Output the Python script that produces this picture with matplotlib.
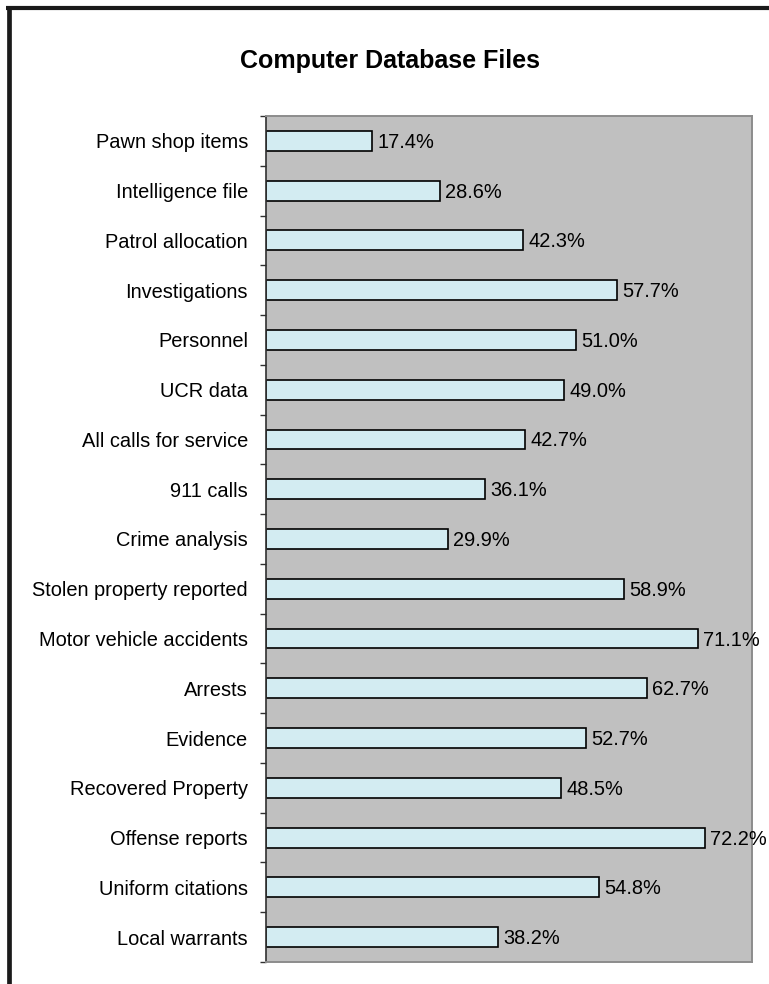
import matplotlib
matplotlib.use("Agg")
import matplotlib.pyplot as plt
from matplotlib.lines import Line2D

categories = [
    "Pawn shop items", "Intelligence file", "Patrol allocation", "Investigations",
    "Personnel", "UCR data", "All calls for service", "911 calls", "Crime analysis",
    "Stolen property reported", "Motor vehicle accidents", "Arrests", "Evidence",
    "Recovered Property", "Offense reports", "Uniform citations", "Local warrants",
]
values = [17.4, 28.6, 42.3, 57.7, 51.0, 49.0, 42.7, 36.1, 29.9,
          58.9, 71.1, 62.7, 52.7, 48.5, 72.2, 54.8, 38.2]
title = "Computer Database Files"

plt.rcParams["font.family"] = ["Liberation Sans", "DejaVu Sans"]

W, H = 769, 984
fig = plt.figure(figsize=(W / 100, H / 100), dpi=100)
fig.patch.set_facecolor("white")

ax = fig.add_axes([266 / W, 1 - 962 / H, (752 - 266) / W, (962 - 116) / H])
ax.set_facecolor("#C0C0C0")

ypos = list(range(len(categories)))
ax.barh(ypos, values, height=0.4, color="#D3ECF2", edgecolor="black", linewidth=1.2)

for y, v in zip(ypos, values):
    ax.text(v + 0.9, y + 0.03, f"{v:.1f}%", va="center", ha="left", fontsize=14.4,
            color="black", clip_on=False)

ax.set_xlim(0, 80)
ax.set_ylim(len(categories) - 0.5, -0.5)
ax.set_xticks([])
ax.set_yticks(ypos)
ax.set_yticklabels(categories, fontsize=14.4)
for lbl in ax.get_yticklabels():
    lbl.set_y(0)
ax.tick_params(axis="y", which="major", length=0, pad=13)
ax.set_yticks([i - 0.5 for i in range(len(categories) + 1)], minor=True)
ax.tick_params(axis="y", which="minor", length=4.5, width=1.0, color="#303030")

ax.spines["left"].set_color("#303030")
ax.spines["left"].set_linewidth(1.2)
for s in ["top", "right", "bottom"]:
    ax.spines[s].set_color("#8C8C8C")
    ax.spines[s].set_linewidth(1.4)

fig.text(389.5 / W, 1 - 68 / H, title, ha="center", va="baseline",
         fontsize=18, fontweight="bold")

# outer frame (left and top)
fig.add_artist(Line2D([8.5 / W, 8.5 / W], [0, 1 - 6 / H], transform=fig.transFigure,
                      color="#1A1A1A", linewidth=3.4, solid_capstyle="butt"))
fig.add_artist(Line2D([6 / W, 1], [1 - 8 / H, 1 - 8 / H], transform=fig.transFigure,
                      color="#1A1A1A", linewidth=3.0, solid_capstyle="butt"))

fig.savefig("out.png", dpi=100)
